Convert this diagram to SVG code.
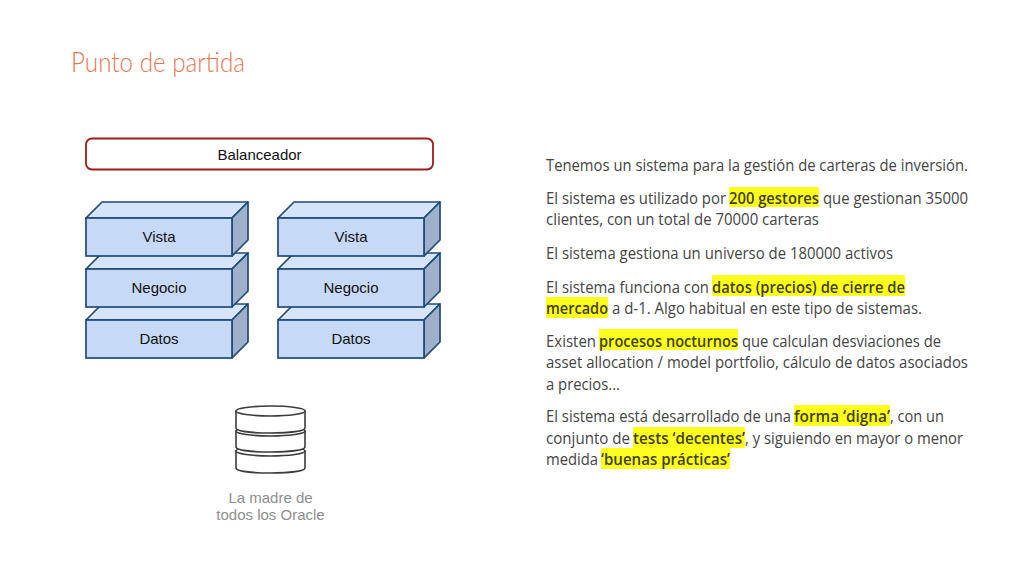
<svg xmlns="http://www.w3.org/2000/svg" width="1024" height="576" viewBox="0 0 1024 576">
<style>
.lbl{font:15px "Liberation Sans",Arial,sans-serif;fill:#111;text-anchor:middle}
.front{fill:#c6d9f6;stroke:#1f4a7a;stroke-width:1.7}
.top{fill:#d6e4f9;stroke:#1f4a7a;stroke-width:1.7;stroke-linejoin:round}
.side{fill:#9fb0cb;stroke:#1f4a7a;stroke-width:1.7;stroke-linejoin:round}
.disk{fill:#fff;stroke:#3c3c3c;stroke-width:1.6}
.cap{font:15px "Liberation Sans",Arial,sans-serif;fill:#8e8e8e;text-anchor:middle}
.t{font-family:"Open Sans","Noto Sans",sans-serif;font-size:15.500px;fill:#444}
.b{font-weight:600;fill:#3f3f18}
.hl{fill:#ffff1e}
</style>
<defs>
<g id="block">
<path class="top" d="M0 16 16 0H162L146 16Z"/>
<path class="side" d="M146 16 162 0V38L146 54Z"/>
<rect class="front" x="0" y="16" width="146" height="38"/>
</g>
</defs>
<rect width="1024" height="576" fill="#fff"/>
<text id="title" x="71" y="72" font-family="Lato,Roboto,sans-serif" font-weight="300" font-size="28" fill="#e6774f" textLength="174" lengthAdjust="spacingAndGlyphs">Punto de partida</text>

<g id="balanceador">
<rect x="86" y="138.500" width="347" height="31" rx="6" fill="#fff" stroke="#9c1c1c" stroke-width="1.8"/>
<text class="lbl" x="259.500" y="159.500">Balanceador</text>
</g>

<g id="stack-left">
<g id="datos-1"><use href="#block" x="86" y="304"/><text class="lbl" x="159" y="344">Datos</text></g>
<g id="negocio-1"><use href="#block" x="86" y="253"/><text class="lbl" x="159" y="293">Negocio</text></g>
<g id="vista-1"><use href="#block" x="86" y="202"/><text class="lbl" x="159" y="242">Vista</text></g>
</g>
<g id="stack-right">
<g id="datos-2"><use href="#block" x="278" y="304"/><text class="lbl" x="351" y="344">Datos</text></g>
<g id="negocio-2"><use href="#block" x="278" y="253"/><text class="lbl" x="351" y="293">Negocio</text></g>
<g id="vista-2"><use href="#block" x="278" y="202"/><text class="lbl" x="351" y="242">Vista</text></g>
</g>

<g id="database">
<path class="disk" d="M236 451v17c0 3 15 5 34.500 5s34.500-2 34.500-5v-17z"/>
<ellipse class="disk" cx="270.500" cy="451" rx="34.500" ry="5"/>
<path class="disk" d="M236 431v16c0 3 15 5 34.500 5s34.500-2 34.500-5v-16z"/>
<ellipse class="disk" cx="270.500" cy="431" rx="34.500" ry="5"/>
<path class="disk" d="M236 411v17c0 3 15 5 34.500 5s34.500-2 34.500-5v-17z"/>
<ellipse class="disk" cx="270.500" cy="411" rx="34.500" ry="5"/>
<text class="cap" x="270.500" y="503">La madre de</text>
<text class="cap" x="270.500" y="520">todos los Oracle</text>
</g>

<g id="highlights">
<rect class="hl" x="729" y="187" width="90" height="20"/>
<rect class="hl" x="712" y="275" width="193" height="21"/>
<rect class="hl" x="546" y="297" width="62" height="21"/>
<rect class="hl" x="599" y="329" width="139" height="21"/>
<rect class="hl" x="794" y="405" width="96" height="21"/>
<rect class="hl" x="633" y="427" width="112" height="21"/>
<rect class="hl" x="601" y="448" width="129" height="21"/>
</g>
<g id="body">
<text class="t" x="546" y="171" textLength="422" lengthAdjust="spacingAndGlyphs">Tenemos un sistema para la gestión de carteras de inversión.</text>
<text class="t" x="546" y="204" textLength="180" lengthAdjust="spacingAndGlyphs">El sistema es utilizado por</text>
<text class="t b" x="729" y="204" textLength="90" lengthAdjust="spacingAndGlyphs">200 gestores</text>
<text class="t" x="823" y="204" textLength="145" lengthAdjust="spacingAndGlyphs">que gestionan 35000</text>
<text class="t" x="546" y="225" textLength="273" lengthAdjust="spacingAndGlyphs">clientes, con un total de 70000 carteras</text>
<text class="t" x="546" y="259" textLength="347" lengthAdjust="spacingAndGlyphs">El sistema gestiona un universo de 180000 activos</text>
<text class="t" x="546" y="293" textLength="163" lengthAdjust="spacingAndGlyphs">El sistema funciona con</text>
<text class="t b" x="712" y="293" textLength="193" lengthAdjust="spacingAndGlyphs">datos (precios) de cierre de</text>
<text class="t b" x="546" y="314" textLength="62" lengthAdjust="spacingAndGlyphs">mercado</text>
<text class="t" x="612" y="314" textLength="310" lengthAdjust="spacingAndGlyphs">a d-1. Algo habitual en este tipo de sistemas.</text>
<text class="t" x="546" y="347" textLength="50" lengthAdjust="spacingAndGlyphs">Existen</text>
<text class="t b" x="599" y="347" textLength="139" lengthAdjust="spacingAndGlyphs">procesos nocturnos</text>
<text class="t" x="742" y="347" textLength="199" lengthAdjust="spacingAndGlyphs">que calculan desviaciones de</text>
<text class="t" x="546" y="368" textLength="422" lengthAdjust="spacingAndGlyphs">asset allocation / model portfolio, cálculo de datos asociados</text>
<text class="t" x="546" y="390" textLength="74" lengthAdjust="spacingAndGlyphs">a precios...</text>
<text class="t" x="546" y="422" textLength="245" lengthAdjust="spacingAndGlyphs">El sistema está desarrollado de una</text>
<text class="t b" x="794" y="422" textLength="96" lengthAdjust="spacingAndGlyphs">forma ‘digna’</text>
<text class="t" x="890" y="422" textLength="54" lengthAdjust="spacingAndGlyphs">, con un</text>
<text class="t" x="546" y="444" textLength="84" lengthAdjust="spacingAndGlyphs">conjunto de</text>
<text class="t b" x="633" y="444" textLength="112" lengthAdjust="spacingAndGlyphs">tests ‘decentes’</text>
<text class="t" x="745" y="444" textLength="218" lengthAdjust="spacingAndGlyphs">, y siguiendo en mayor o menor</text>
<text class="t" x="546" y="465" textLength="52" lengthAdjust="spacingAndGlyphs">medida</text>
<text class="t b" x="601" y="465" textLength="129" lengthAdjust="spacingAndGlyphs">‘buenas prácticas’</text>
</g>
<g id="connectors"/>
</svg>
